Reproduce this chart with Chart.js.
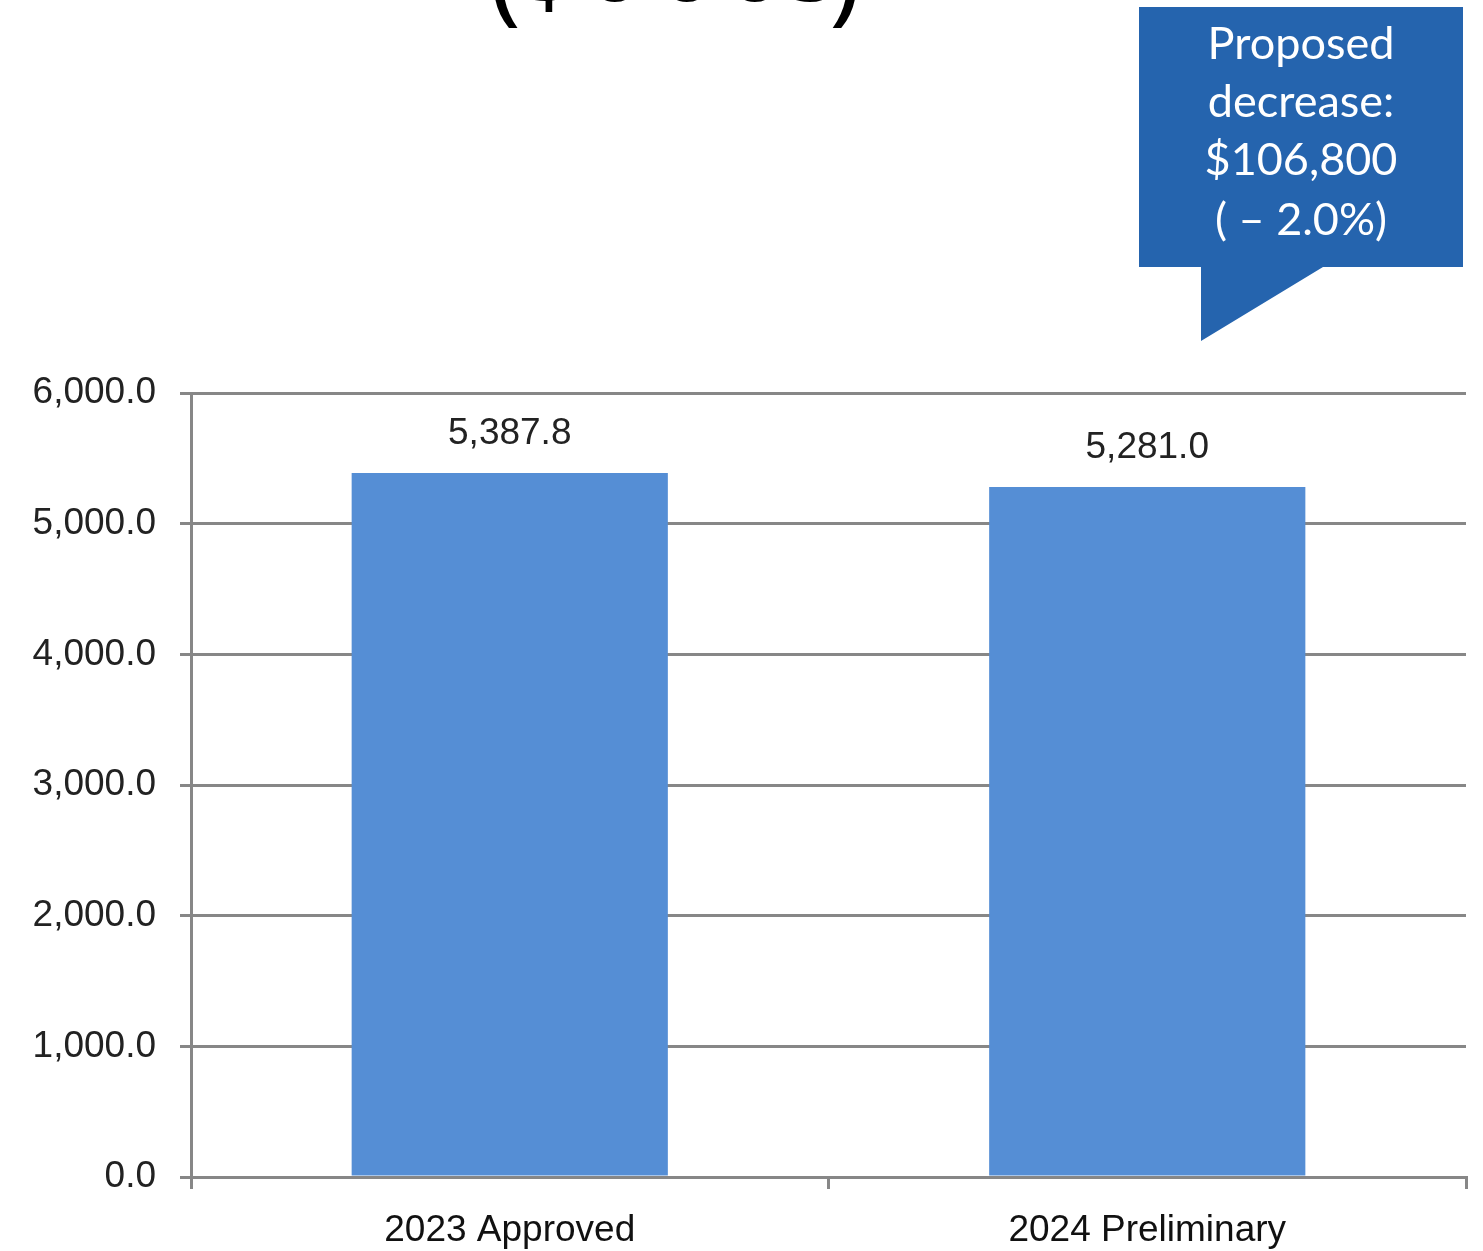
<!DOCTYPE html>
<html>
<head>
<meta charset="utf-8">
<script src="https://cdn.jsdelivr.net/npm/chart.js@4/dist/chart.umd.min.js"></script>
<style>
  html, body { margin: 0; padding: 0; background: #fff; }
  #wrap { width: 1483px; height: 1251px; position: relative; }
</style>
</head>
<body>
<div id="wrap"><canvas id="myChart"></canvas></div>
<script>
// data
const categorias = ['2023 Approved', '2024 Preliminary'];
const valores = [5387.8, 5281.0];
const yTicks = [0, 1000, 2000, 3000, 4000, 5000, 6000];
const titulo = ['(', '$', '0', '0', '0', 's', ')'];
const balao = ['Proposed', 'decrease:', '$106,800', '( \u2013 2.0%)'];

const corBarra = '#558ed5';
const corGrade = '#878787';
const fonte = '"Liberation Sans", Arial, sans-serif';

function fmt(v) {
  return v.toLocaleString('en-US', { minimumFractionDigits: 1, maximumFractionDigits: 1 });
}

// title fragment + callout + value labels
const extras = {
  id: 'extras',
  afterDraw(chart) {
    const ctx = chart.ctx;
    ctx.save();

    // title cut off at top of the picture, only the bottoms show
    ctx.fillStyle = '#000';
    ctx.font = '104px "Noto Sans", sans-serif';
    ctx.textAlign = 'center';
    ctx.textBaseline = 'alphabetic';
    const tx = [505, 549, 615, 687, 755, 812, 845];
    titulo.forEach(function (c, i) {
      let base = 1;
      if (c === '(' || c === ')') base = 12;
      if (c === '$') base = 6;
      ctx.fillText(c, tx[i], base);
    });

    // value labels
    ctx.fillStyle = '#222';
    ctx.font = '37px ' + fonte;
    const meta = chart.getDatasetMeta(0);
    meta.data.forEach(function (bar, i) {
      ctx.fillText(fmt(valores[i]), bar.x, bar.y - 29);
    });

    // callout box
    ctx.fillStyle = '#2564ae';
    ctx.beginPath();
    ctx.moveTo(1139, 7);
    ctx.lineTo(1463, 7);
    ctx.lineTo(1463, 267);
    ctx.lineTo(1323, 267);
    ctx.lineTo(1201, 341);
    ctx.lineTo(1201, 267);
    ctx.lineTo(1139, 267);
    ctx.closePath();
    ctx.fill();

    ctx.fillStyle = '#fff';
    ctx.font = '45px Lato, sans-serif';
    const ys = [59, 117, 175, 235];
    balao.forEach(function (t, i) {
      ctx.fillText(t, 1301, ys[i]);
    });
    ctx.restore();
  }
};

const data = {
  labels: categorias,
  datasets: [{
    data: valores,
    backgroundColor: corBarra,
    borderWidth: 0,
    categoryPercentage: 1,
    barPercentage: 0.496
  }]
};

const config = {
  type: 'bar',
  data: data,
  options: {
    responsive: true,
    maintainAspectRatio: false,
    animation: false,
    layout: { padding: { top: 393, right: 17, left: 0, bottom: 0 } },
    plugins: {
      legend: { display: false },
      tooltip: { enabled: false }
    },
    scales: {
      x: {
        offset: true,
        grid: {
          offset: true,
          drawOnChartArea: false,
          drawTicks: true,
          tickLength: 12,
          color: corGrade,
          lineWidth: 3
        },
        border: { display: true, color: corGrade, width: 3 },
        ticks: {
          color: '#111',
          font: { family: fonte, size: 37 },
          padding: 20
        },
        afterFit(scale) { scale.height = 74; }
      },
      y: {
        min: 0,
        max: 6000,
        afterBuildTicks(scale) {
          scale.ticks = yTicks.map(function (v) { return { value: v }; });
        },
        grid: {
          color: corGrade,
          lineWidth: 3,
          tickLength: 11
        },
        border: { display: true, color: corGrade, width: 3 },
        ticks: {
          color: '#222',
          font: { family: fonte, size: 37 },
          padding: 24,
          callback: function (v) { return fmt(v); }
        },
        afterFit(scale) { scale.width = 191; }
      }
    }
  },
  plugins: [extras]
};

const myChart = new Chart(document.getElementById('myChart'), config);
</script>
</body>
</html>
